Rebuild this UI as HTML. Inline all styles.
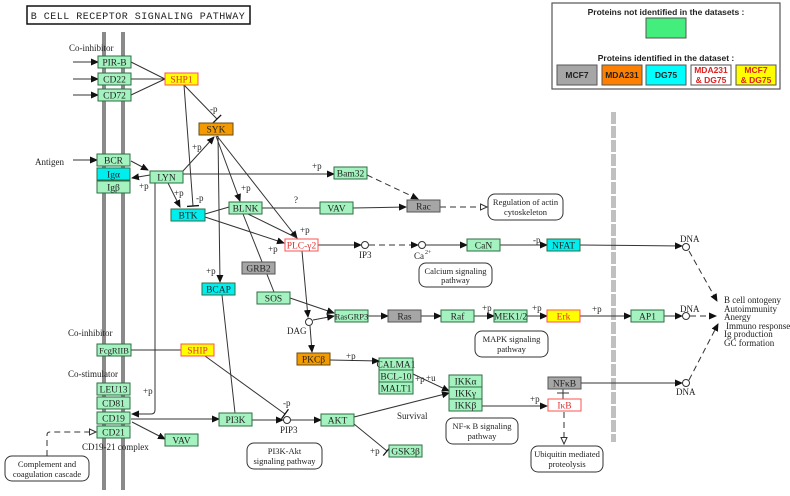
<!DOCTYPE html>
<html><head><meta charset="utf-8"><style>
html,body{margin:0;padding:0;background:#fff;width:790px;height:496px;overflow:hidden}
svg{display:block}
text{font-family:"Liberation Serif",serif;font-size:9px;fill:#222}
.n{text-anchor:middle;font-size:9.5px}
.lg{font-family:"Liberation Sans",sans-serif;font-weight:bold;font-size:8.5px;text-anchor:middle}
.g{fill:#a3f2bf;stroke:#2e6e46;stroke-width:1}
.c{fill:#00eeee;stroke:#2e6e46;stroke-width:1}
.o{fill:#f29a00;stroke:#6a4a10;stroke-width:1}
.gr{fill:#a6a6a6;stroke:#555;stroke-width:1}
.y{fill:#ffff00;stroke:#ff5050;stroke-width:1}
.w{fill:#fff;stroke:#ff5050;stroke-width:1}
.l{stroke:#333;stroke-width:1;fill:none}
.d{stroke:#333;stroke-width:1;fill:none;stroke-dasharray:6,4}
.rb{fill:#fff;stroke:#333;stroke-width:1}
</style></head><body>
<svg width="790" height="496" viewBox="0 0 790 496" xmlns="http://www.w3.org/2000/svg">
<defs>
<marker id="a" markerWidth="8" markerHeight="8" refX="7" refY="4" orient="auto" markerUnits="userSpaceOnUse"><path d="M0,0.5 L8,4 L0,7.5z" fill="#111"/></marker>
<marker id="e" markerWidth="8" markerHeight="8" refX="7" refY="4" orient="auto" markerUnits="userSpaceOnUse"><path d="M0.5,1 L7,4 L0.5,7z" fill="#fff" stroke="#333"/></marker>
<marker id="t" markerWidth="4" markerHeight="12" refX="2" refY="6" orient="auto" markerUnits="userSpaceOnUse"><path d="M2,0 L2,12" stroke="#111" stroke-width="1.3"/></marker>
</defs>

<!-- title -->
<rect x="27" y="6" width="223" height="18" fill="#fff" stroke="#111" stroke-width="1.5"/>
<text x="138" y="19" style="font-family:'Liberation Mono',monospace;font-size:10px;text-anchor:middle;letter-spacing:0.5px">B CELL RECEPTOR SIGNALING PATHWAY</text>

<!-- legend -->
<rect x="552" y="3" width="228" height="86" fill="#fff" stroke="#555" stroke-width="1.2"/>
<text class="lg" x="666" y="15">Proteins not identified in the datasets :</text>
<rect x="646" y="18" width="40" height="20" fill="#44ee7c" stroke="#555"/>
<text class="lg" x="666" y="61">Proteins identified in the dataset :</text>
<rect x="557" y="65" width="40" height="20" fill="#a6a6a6" stroke="#555"/>
<text class="lg" x="577" y="78">MCF7</text>
<rect x="602" y="65" width="40" height="20" fill="#ff7f00" stroke="#555"/>
<text class="lg" x="622" y="78">MDA231</text>
<rect x="646" y="65" width="40" height="20" fill="#00ffff" stroke="#555"/>
<text class="lg" x="666" y="78">DG75</text>
<rect x="691" y="65" width="40" height="20" fill="#fff" stroke="#555"/>
<text class="lg" x="711" y="73" style="fill:#e02020">MDA231</text>
<text class="lg" x="711" y="83" style="fill:#e02020">&amp; DG75</text>
<rect x="736" y="65" width="40" height="20" fill="#ffff00" stroke="#555"/>
<text class="lg" x="756" y="73" style="fill:#e02020">MCF7</text>
<text class="lg" x="756" y="83" style="fill:#e02020">&amp; DG75</text>

<!-- membrane -->
<rect x="102" y="32" width="4" height="458" fill="#8a8a8a"/>
<rect x="121" y="32" width="4" height="458" fill="#8a8a8a"/>
<line x1="613.5" y1="112" x2="613.5" y2="442" stroke="#c0c0c0" stroke-width="5" stroke-dasharray="12,2"/>

<!-- edges -->
<line class="l" x1="73" y1="62" x2="98" y2="62" marker-end="url(#a)"/>
<line class="l" x1="73" y1="79" x2="98" y2="79" marker-end="url(#a)"/>
<line class="l" x1="73" y1="95" x2="98" y2="95" marker-end="url(#a)"/>
<line class="l" x1="131" y1="62" x2="165" y2="79"/>
<line class="l" x1="131" y1="79" x2="165" y2="79"/>
<line class="l" x1="131" y1="95" x2="165" y2="79"/>
<line class="l" x1="184" y1="85" x2="217" y2="119" marker-end="url(#t)"/>
<text x="210" y="112">-p</text>
<line class="l" x1="184" y1="85" x2="193" y2="206" marker-end="url(#t)"/>
<text x="196" y="201">-p</text>
<line class="l" x1="73" y1="160" x2="97" y2="160" marker-end="url(#a)"/>
<line class="l" x1="131" y1="161" x2="148" y2="170" marker-end="url(#a)"/>
<line class="l" x1="150" y1="175" x2="132" y2="178" marker-end="url(#a)"/>
<text x="139" y="189">+p</text>
<line class="l" x1="183" y1="171" x2="214" y2="137" marker-end="url(#a)"/>
<text x="192" y="150">+p</text>
<line class="l" x1="168" y1="183" x2="180" y2="207" marker-end="url(#a)"/>
<text x="174" y="196">+p</text>
<line class="l" x1="183" y1="174" x2="334" y2="174" marker-end="url(#a)"/>
<text x="312" y="169">+p</text>
<path class="l" d="M155,183 L155,410 Q155,414 151,414 L132,414" marker-end="url(#a)"/>
<text x="143" y="394">+p</text>
<line class="l" x1="216" y1="136" x2="240" y2="201" marker-end="url(#a)"/>
<text x="241" y="191">+p</text>
<line class="l" x1="217" y1="136" x2="297" y2="238" marker-end="url(#a)"/>
<text x="300" y="233">+p</text>
<line class="l" x1="218" y1="136" x2="220" y2="282" marker-end="url(#a)"/>
<text x="206" y="274">+p</text>
<line class="l" x1="205" y1="214" x2="229" y2="207"/>
<line class="l" x1="205" y1="217" x2="284" y2="243" marker-end="url(#a)"/>
<text x="268" y="252">+p</text>
<line class="l" x1="248" y1="214" x2="297" y2="238"/>
<line class="l" x1="262" y1="208" x2="320" y2="208"/>
<text x="294" y="203">?</text>
<line class="l" x1="353" y1="208" x2="406" y2="207" marker-end="url(#a)"/>
<line class="d" x1="367" y1="175" x2="418" y2="199" marker-end="url(#a)"/>
<line class="d" x1="440" y1="207" x2="487" y2="207" marker-end="url(#e)"/>
<line class="l" x1="243" y1="214" x2="274" y2="292"/>
<line class="l" x1="318" y1="245" x2="361" y2="245" marker-end="url(#a)"/>
<line class="d" x1="369" y1="245" x2="418" y2="245" marker-end="url(#a)"/>
<line class="l" x1="426" y1="245" x2="467" y2="245" marker-end="url(#a)"/>
<line class="l" x1="500" y1="245" x2="547" y2="245" marker-end="url(#a)"/>
<text x="533" y="243">-p</text>
<line class="l" x1="580" y1="245" x2="682" y2="246" marker-end="url(#a)"/>
<line class="d" x1="689" y1="251" x2="717" y2="301" marker-end="url(#a)"/>
<line class="l" x1="302" y1="251" x2="308" y2="317" marker-end="url(#a)"/>
<line class="l" x1="290" y1="298" x2="334" y2="313" marker-end="url(#a)"/>
<line class="l" x1="313" y1="320" x2="334" y2="316" marker-end="url(#a)"/>
<line class="l" x1="310" y1="326" x2="312" y2="352" marker-end="url(#a)"/>
<line class="l" x1="368" y1="316" x2="388" y2="316" marker-end="url(#a)"/>
<line class="l" x1="421" y1="316" x2="441" y2="316" marker-end="url(#a)"/>
<line class="l" x1="474" y1="316" x2="494" y2="316" marker-end="url(#a)"/>
<text x="482" y="311">+p</text>
<line class="l" x1="527" y1="316" x2="547" y2="316" marker-end="url(#a)"/>
<text x="532" y="311">+p</text>
<line class="l" x1="580" y1="316" x2="631" y2="316" marker-end="url(#a)"/>
<text x="592" y="312">+p</text>
<line class="l" x1="664" y1="316" x2="682" y2="316" marker-end="url(#a)"/>
<line class="d" x1="690" y1="316" x2="716" y2="316" marker-end="url(#a)"/>
<line class="d" x1="689" y1="380" x2="718" y2="324" marker-end="url(#a)"/>
<line class="l" x1="222" y1="295" x2="235" y2="413"/>
<line class="l" x1="131" y1="350" x2="181" y2="350"/>
<line class="l" x1="205" y1="356" x2="285" y2="414" marker-end="url(#t)"/>
<text x="283" y="406">-p</text>
<line class="l" x1="131" y1="419" x2="219" y2="419" marker-end="url(#a)"/>
<line class="l" x1="132" y1="422" x2="165" y2="439" marker-end="url(#a)"/>
<line class="l" x1="252" y1="420" x2="283" y2="420" marker-end="url(#a)"/>
<line class="l" x1="291" y1="420" x2="321" y2="420" marker-end="url(#a)"/>
<line class="l" x1="354" y1="417" x2="449" y2="393" marker-end="url(#a)"/>
<text x="415" y="382">+p</text>
<text x="397" y="419">Survival</text>
<line class="l" x1="354" y1="424" x2="387" y2="451" marker-end="url(#t)"/>
<text x="370" y="454">+p</text>
<line class="l" x1="330" y1="360" x2="379" y2="361" marker-end="url(#a)"/>
<text x="346" y="359">+p</text>
<line class="l" x1="413" y1="374" x2="449" y2="391" marker-end="url(#a)"/>
<text x="426" y="381">+u</text>
<line class="l" x1="482" y1="406" x2="547" y2="406" marker-end="url(#a)"/>
<text x="530" y="402">+p</text>
<line class="l" x1="563" y1="389" x2="563" y2="399"/>
<line class="l" x1="557" y1="393" x2="569" y2="393"/>
<line class="l" x1="581" y1="383" x2="682" y2="383" marker-end="url(#a)"/>
<line class="d" x1="564" y1="412" x2="564" y2="444" marker-end="url(#e)"/>
<path class="d" d="M47,456 L47,435 Q47,432 50,432 L96,432" marker-end="url(#e)"/>

<!-- small circles -->
<g fill="#fff" stroke="#333">
<circle cx="365" cy="245" r="3.5"/><circle cx="422" cy="245" r="3.5"/>
<circle cx="686" cy="247" r="3.5"/><circle cx="686" cy="316" r="3.5"/>
<circle cx="686" cy="383" r="3.5"/><circle cx="309" cy="322" r="3.5"/>
<circle cx="287" cy="420" r="3.5"/>
</g>

<!-- nodes -->
<g>
<rect class="g" x="98" y="56" width="33" height="12"/><text class="n" x="114.5" y="65.5">PIR-B</text>
<rect class="g" x="98" y="73" width="33" height="12"/><text class="n" x="114.5" y="82.5">CD22</text>
<rect class="g" x="98" y="89" width="33" height="12"/><text class="n" x="114.5" y="98.5">CD72</text>
<rect class="y" x="165" y="73" width="33" height="12"/><text class="n" x="181.5" y="82.5" style="fill:#e03030">SHP1</text>
<rect class="o" x="199" y="123" width="34" height="12"/><text class="n" x="216" y="132.5">SYK</text>
<rect class="g" x="97" y="154" width="33" height="12"/><text class="n" x="113.5" y="163.5">BCR</text>
<rect class="c" x="97" y="168" width="33" height="12"/><text class="n" x="113.5" y="177.5">Igα</text>
<rect class="g" x="97" y="181" width="33" height="12"/><text class="n" x="113.5" y="190.5">Igβ</text>
<rect class="g" x="150" y="171" width="33" height="12"/><text class="n" x="166.5" y="180.5">LYN</text>
<rect class="g" x="334" y="167" width="33" height="12"/><text class="n" x="350.5" y="176.5">Bam32</text>
<rect class="c" x="171" y="209" width="34" height="12"/><text class="n" x="188" y="218.5">BTK</text>
<rect class="g" x="229" y="202" width="33" height="12"/><text class="n" x="245.5" y="211.5">BLNK</text>
<rect class="g" x="320" y="202" width="33" height="12"/><text class="n" x="336.5" y="211.5">VAV</text>
<rect class="gr" x="407" y="200" width="33" height="12"/><text class="n" x="423.5" y="209.5">Rac</text>
<rect class="w" x="285" y="239" width="33" height="12"/><text class="n" x="301.5" y="248.5" style="fill:#e03030">PLC-γ2</text>
<rect class="g" x="467" y="239" width="33" height="12"/><text class="n" x="483.5" y="248.5">CaN</text>
<rect class="c" x="547" y="239" width="33" height="12"/><text class="n" x="563.5" y="248.5">NFAT</text>
<rect class="gr" x="242" y="262" width="33" height="12"/><text class="n" x="258.5" y="271.5">GRB2</text>
<rect class="c" x="202" y="283" width="33" height="12"/><text class="n" x="218.5" y="292.5">BCAP</text>
<rect class="g" x="257" y="292" width="33" height="12"/><text class="n" x="273.5" y="301.5">SOS</text>
<rect class="g" x="335" y="310" width="33" height="12"/><text class="n" x="351.5" y="319.5" style="font-size:8.5px">RasGRP3</text>
<rect class="gr" x="388" y="310" width="33" height="12"/><text class="n" x="404.5" y="319.5">Ras</text>
<rect class="g" x="441" y="310" width="33" height="12"/><text class="n" x="457.5" y="319.5">Raf</text>
<rect class="g" x="494" y="310" width="33" height="12"/><text class="n" x="510.5" y="319.5">MEK1/2</text>
<rect class="y" x="547" y="310" width="33" height="12"/><text class="n" x="563.5" y="319.5" style="fill:#e03030">Erk</text>
<rect class="g" x="631" y="310" width="33" height="12"/><text class="n" x="647.5" y="319.5">AP1</text>
<rect class="g" x="97" y="344" width="34" height="12"/><text class="n" x="114" y="353.5" style="font-size:8.5px">FcgRIIB</text>
<rect class="y" x="181" y="344" width="33" height="12"/><text class="n" x="197.5" y="353.5" style="fill:#e03030">SHIP</text>
<rect class="o" x="297" y="353" width="33" height="12"/><text class="n" x="313.5" y="362.5">PKCβ</text>
<rect class="g" x="379" y="358" width="34" height="12"/><text class="n" x="396" y="367.5">CALMA1</text>
<rect class="g" x="379" y="370" width="34" height="12"/><text class="n" x="396" y="379.5">BCL-10</text>
<rect class="g" x="379" y="382" width="34" height="12"/><text class="n" x="396" y="391.5">MALT1</text>
<rect class="g" x="449" y="375" width="33" height="12"/><text class="n" x="465.5" y="384.5">IKKα</text>
<rect class="g" x="449" y="387" width="33" height="12"/><text class="n" x="465.5" y="396.5">IKKγ</text>
<rect class="g" x="449" y="399" width="33" height="12"/><text class="n" x="465.5" y="408.5">IKKβ</text>
<rect class="gr" x="548" y="377" width="33" height="12"/><text class="n" x="564.5" y="386.5">NFκB</text>
<rect class="w" x="548" y="399" width="33" height="12"/><text class="n" x="564.5" y="408.5" style="fill:#e03030">IκB</text>
<rect class="g" x="97" y="383" width="33" height="12"/><text class="n" x="113.5" y="392.5">LEU13</text>
<rect class="g" x="97" y="397" width="33" height="12"/><text class="n" x="113.5" y="406.5">CD81</text>
<rect class="g" x="97" y="412" width="33" height="12"/><text class="n" x="113.5" y="421.5">CD19</text>
<rect class="g" x="97" y="426" width="33" height="12"/><text class="n" x="113.5" y="435.5">CD21</text>
<rect class="g" x="219" y="413" width="33" height="13"/><text class="n" x="235.5" y="423">PI3K</text>
<rect class="g" x="321" y="414" width="33" height="12"/><text class="n" x="337.5" y="423.5">AKT</text>
<rect class="g" x="165" y="434" width="33" height="12"/><text class="n" x="181.5" y="443.5">VAV</text>
<rect class="g" x="389" y="445" width="33" height="12"/><text class="n" x="405.5" y="454.5">GSK3β</text>
</g>

<!-- rounded pathway boxes -->
<rect class="rb" x="488" y="194" width="75" height="26" rx="7"/>
<text class="n" x="525.5" y="205" style="font-size:8.5px">Regulation of actin</text><text class="n" x="525.5" y="215" style="font-size:8.5px">cytoskeleton</text>
<rect class="rb" x="419" y="263" width="73" height="24" rx="7"/>
<text class="n" x="455.5" y="274" style="font-size:8.5px">Calcium signaling</text><text class="n" x="455.5" y="283" style="font-size:8.5px">pathway</text>
<rect class="rb" x="475" y="331" width="73" height="26" rx="7"/>
<text class="n" x="511.5" y="342" style="font-size:8.5px">MAPK signaling</text><text class="n" x="511.5" y="352" style="font-size:8.5px">pathway</text>
<rect class="rb" x="446" y="418" width="72" height="26" rx="7"/>
<text class="n" x="482" y="429" style="font-size:8.5px">NF-κ B signaling</text><text class="n" x="482" y="439" style="font-size:8.5px">pathway</text>
<rect class="rb" x="531" y="446" width="72" height="26" rx="7"/>
<text class="n" x="567" y="457" style="font-size:8.5px">Ubiquitin mediated</text><text class="n" x="567" y="467" style="font-size:8.5px">proteolysis</text>
<rect class="rb" x="247" y="443" width="75" height="26" rx="7"/>
<text class="n" x="284.5" y="454" style="font-size:8.5px">PI3K-Akt</text><text class="n" x="284.5" y="464" style="font-size:8.5px">signaling pathway</text>
<rect class="rb" x="5" y="456" width="84" height="25" rx="7"/>
<text class="n" x="47" y="467" style="font-size:8.5px">Complement and</text><text class="n" x="47" y="477" style="font-size:8.5px">coagulation cascade</text>

<!-- labels -->
<text x="69" y="51">Co-inhibitor</text>
<text x="35" y="165">Antigen</text>
<text x="68" y="87" style="display:none">.</text>
<text x="68" y="336">Co-inhibitor</text>
<text x="68" y="377">Co-stimulator</text>
<text x="82" y="450">CD19-21 complex</text>
<text x="359" y="258">IP3</text>
<text x="414" y="259">Ca</text><text x="425" y="254" style="font-size:6px">2+</text>
<text x="287" y="334">DAG</text>
<text x="280" y="433">PIP3</text>
<text x="680" y="242">DNA</text>
<text x="680" y="312">DNA</text>
<text x="676" y="395">DNA</text>
<g style="font-size:8px">
<text x="724" y="303">B cell ontogeny</text>
<text x="724" y="312">Autoimmunity</text>
<text x="724" y="320">Anergy</text>
<text x="726" y="329">Immuno response</text>
<text x="724" y="337">Ig production</text>
<text x="724" y="346">GC formation</text>
</g>
</svg>
</body></html>
